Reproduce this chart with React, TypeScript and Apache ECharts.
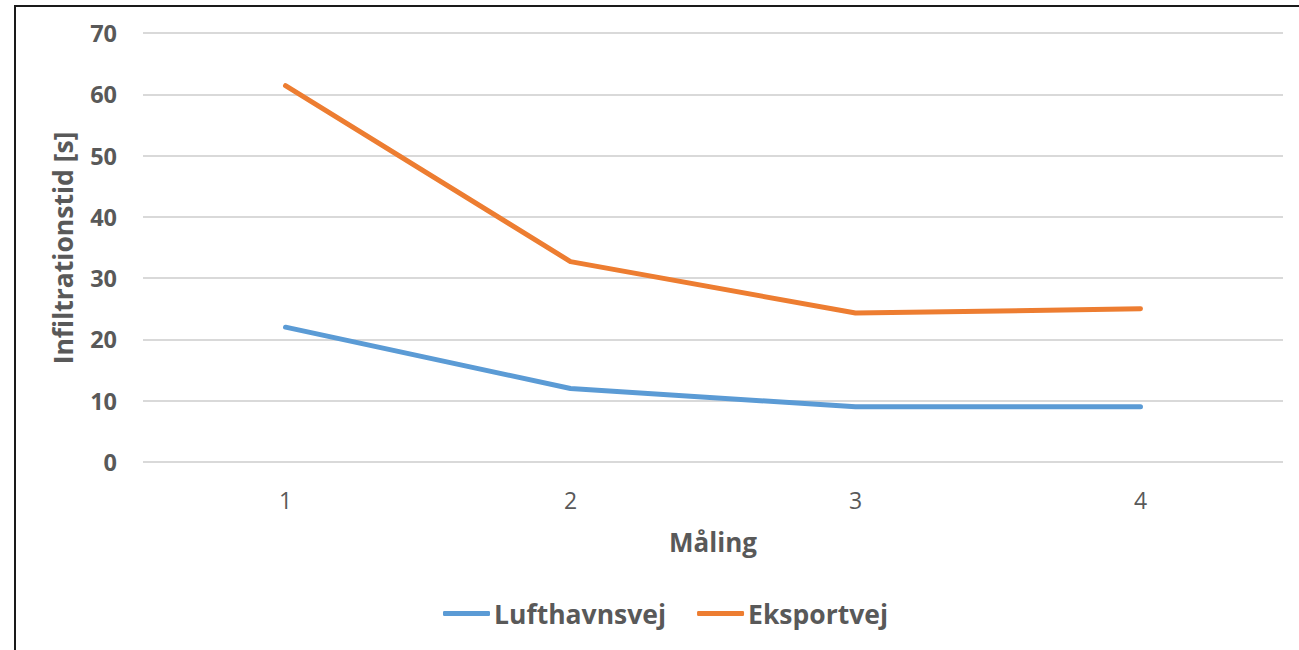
import React, { useEffect, useRef } from "react";
import * as echarts from "echarts";

const categories = ["1", "2", "3", "4"];
const lufthavnsvej = [22, 12, 9, 9];
const eksportvej = [61.4, 32.7, 24.3, 25];
const seriesNames = ["Lufthavnsvej", "Eksportvej"];
const yTitle = "Infiltrationstid [s]";
const xTitle = "Måling";

const FONT = "'Open Sans', sans-serif";
const GREY = "#595959";

export default function App() {
  const ref = useRef<HTMLDivElement>(null);
  useEffect(() => {
    if (!ref.current) return;
    const chart = echarts.init(ref.current, undefined, { renderer: "svg" });
    chart.setOption({
      animation: false,
      backgroundColor: "#ffffff",
      textStyle: { fontFamily: FONT },
      grid: { left: 143, right: 16, top: 33, bottom: 188, containLabel: false },
      graphic: [
        {
          type: "polyline",
          shape: { points: [[15, 660], [15, 6], [1310, 6]] },
          style: { stroke: "#1a1a1a", lineWidth: 2, fill: "none" },
          silent: true,
        },
        {
          type: "text",
          x: 63,
          y: 248,
          rotation: Math.PI / 2,
          style: {
            text: yTitle,
            fontFamily: FONT,
            fontSize: 26.5,
            fontWeight: "bold",
            fill: GREY,
            align: "center",
            verticalAlign: "middle",
          },
        },
        {
          type: "text",
          x: 713,
          y: 542,
          style: {
            text: xTitle,
            fontFamily: FONT,
            fontSize: 26,
            fontWeight: "bold",
            fill: GREY,
            align: "center",
            verticalAlign: "middle",
          },
        },
      ],
      legend: {
        data: seriesNames,
        left: 438,
        top: 595,
        icon: "roundRect",
        itemWidth: 47,
        itemHeight: 5,
        itemGap: 31,
        textStyle: { fontFamily: FONT, fontSize: 26.5, fontWeight: "bold", color: GREY, padding: [0, 0, 0, -1] },
      },
      xAxis: {
        type: "category",
        data: categories,
        boundaryGap: true,
        axisLine: { show: false },
        axisTick: { show: false },
        axisLabel: { fontFamily: FONT, fontSize: 23, color: GREY, margin: 26 },
        splitLine: { show: false },
      },
      yAxis: {
        type: "value",
        min: 0,
        max: 70,
        interval: 10,
        axisLine: { show: false },
        axisTick: { show: false },
        axisLabel: { fontFamily: FONT, fontSize: 23.5, fontWeight: "bold", color: GREY, margin: 26 },
        splitLine: { lineStyle: { color: "#d9d9d9", width: 2 } },
      },
      series: [
        {
          name: seriesNames[0],
          type: "line",
          data: lufthavnsvej,
          symbol: "none",
          color: "#5B9BD5",
          lineStyle: { width: 5, cap: "round", join: "round" },
        },
        {
          name: seriesNames[1],
          type: "line",
          data: eksportvej,
          symbol: "none",
          color: "#ED7D31",
          lineStyle: { width: 5, cap: "round", join: "round" },
        },
      ],
    });
    return () => chart.dispose();
  }, []);
  return (
    <div
      ref={ref}
      style={{ position: "fixed", left: 0, top: 0, width: 1299, height: 650, background: "#fff" }}
    />
  );
}
